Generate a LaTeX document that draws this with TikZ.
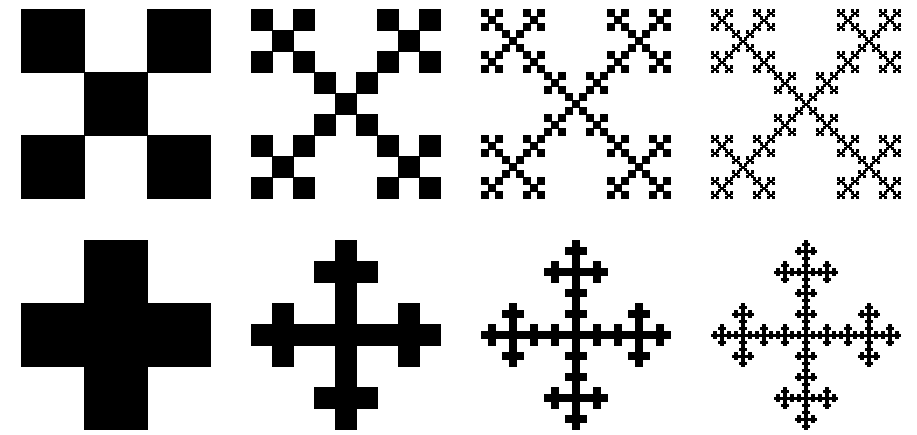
\documentclass[tikz,border=0pt]{standalone}
\usetikzlibrary{positioning}
\tikzset{cell/.style={fill=black,draw=black,line width=.1pt},
every picture/.style={line join=miter}}

% one unit square split into 3x3, kept cells given as i/j
\newcommand\vicsek[2]{%
\ifnum#1=0
\path[cell] (0,0) rectangle (1,1);
\else
\foreach \i/\j in {#2}{
\begin{scope}[shift={(\i/3,\j/3)},scale=1/3]
\vicsek{\numexpr#1-1\relax}{#2}
\end{scope}}
\fi}

\begin{document}
\begin{tikzpicture}[x=0.02cm,y=0.02cm]
\useasboundingbox (0,0) rectangle (917,435);
\foreach \lev in {1,...,4}{
% top row: corners and centre
\begin{scope}[shift={(230*\lev-209,236.5)},scale=189]
\vicsek{\lev}{0/0,2/0,1/1,0/2,2/2}
\end{scope}
% bottom row: cross
\begin{scope}[shift={(230*\lev-209,5.7)},scale=189]
\vicsek{\lev}{1/0,0/1,1/1,2/1,1/2}
\end{scope}
}
\end{tikzpicture}
\end{document}
